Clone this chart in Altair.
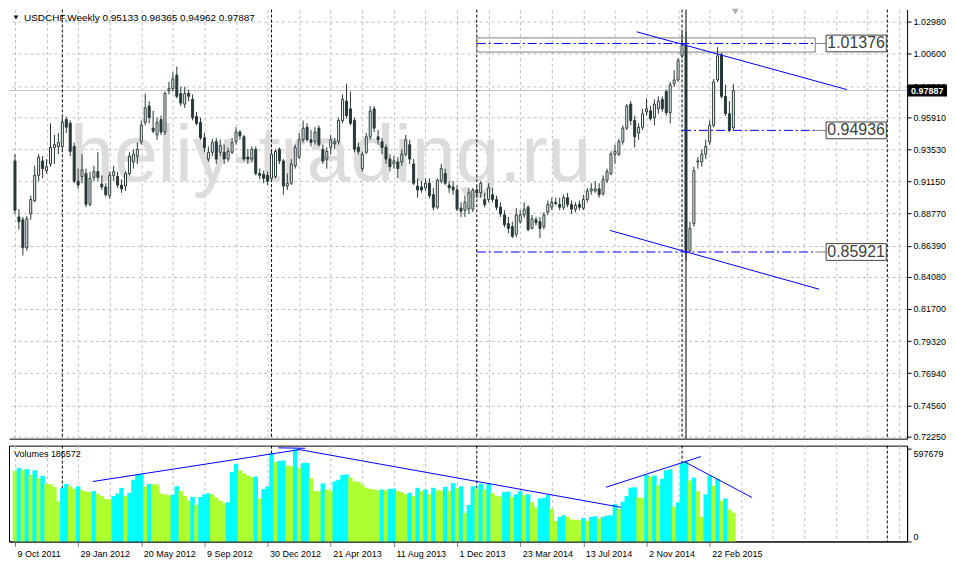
import altair as alt
import pandas as pd

# ---------------- data (weekly USDCHF, bar 0 = week of 9 Oct 2011) ----------------
opens = [
    0.9267, 0.8852, 0.8831, 0.8624, 0.8874, 0.8974, 0.9160, 0.9267, 0.9195, 0.9245,
    0.9367, 0.9374, 0.9374, 0.9574, 0.9546, 0.9374, 0.9117, 0.9152, 0.9174, 0.8945,
    0.9145, 0.9188, 0.9095, 0.9074, 0.9010, 0.9160, 0.9152, 0.9088, 0.9081, 0.9174,
    0.9260, 0.9303, 0.9410, 0.9553, 0.9674, 0.9510, 0.9460, 0.9574, 0.9481, 0.9789,
    0.9803, 0.9903, 0.9767, 0.9688, 0.9767, 0.9724, 0.9596, 0.9553, 0.9438, 0.9281,
    0.9331, 0.9410, 0.9331, 0.9331, 0.9281, 0.9331, 0.9410, 0.9481, 0.9446, 0.9295,
    0.9281, 0.9353, 0.9174, 0.9167, 0.9160, 0.9138, 0.9152, 0.9353, 0.9267, 0.9081,
    0.9102, 0.9231, 0.9295, 0.9424, 0.9517, 0.9424, 0.9410, 0.9510, 0.9353, 0.9281,
    0.9367, 0.9395, 0.9410, 0.9567, 0.9710, 0.9653, 0.9567, 0.9367, 0.9210, 0.9331,
    0.9446, 0.9653, 0.9446, 0.9410, 0.9367, 0.9281, 0.9245, 0.9260, 0.9260, 0.9317,
    0.9388, 0.9245, 0.9081, 0.9074, 0.9067, 0.9102, 0.9017, 0.8924, 0.9117, 0.9174,
    0.9088, 0.9074, 0.9052, 0.8917, 0.8902, 0.8910, 0.8910, 0.9052, 0.9031, 0.8981,
    0.8981, 0.9017, 0.8981, 0.8924, 0.8867, 0.8802, 0.8781, 0.8724, 0.8817, 0.8867,
    0.8924, 0.8767, 0.8831, 0.8817, 0.8781, 0.8888, 0.8924, 0.8960, 0.8945, 0.8924,
    0.8995, 0.8945, 0.8910, 0.8945, 0.8917, 0.8981, 0.9045, 0.9045, 0.9060, 0.9024,
    0.9124, 0.9174, 0.9317, 0.9317, 0.9410, 0.9510, 0.9688, 0.9567, 0.9474, 0.9517,
    0.9631, 0.9638, 0.9588, 0.9653, 0.9724, 0.9781, 0.9624, 0.9839, 0.9867, 1.0046,
    1.0124, 0.8602, 0.8802, 0.9260, 0.9260, 0.9317, 0.9410, 0.9531, 0.9867, 1.0053,
    0.9746, 0.9617, 0.95133,
]
highs = [
    0.9317, 0.8910, 0.8852, 0.8859, 0.9010, 0.9231, 0.9317, 0.9303, 0.9281, 0.9546,
    0.9460, 0.9474, 0.9588, 0.9596, 0.9567, 0.9403, 0.9210, 0.9317, 0.9210, 0.9188,
    0.9231, 0.9331, 0.9160, 0.9102, 0.9188, 0.9231, 0.9188, 0.9131, 0.9188, 0.9331,
    0.9353, 0.9403, 0.9567, 0.9767, 0.9710, 0.9638, 0.9588, 0.9603, 0.9781, 0.9853,
    0.9924, 0.9967, 0.9817, 0.9817, 0.9796, 0.9760, 0.9631, 0.9588, 0.9474, 0.9374,
    0.9431, 0.9438, 0.9424, 0.9388, 0.9367, 0.9438, 0.9517, 0.9496, 0.9460, 0.9353,
    0.9374, 0.9374, 0.9210, 0.9195, 0.9188, 0.9338, 0.9353, 0.9367, 0.9281, 0.9174,
    0.9281, 0.9388, 0.9474, 0.9567, 0.9546, 0.9496, 0.9517, 0.9531, 0.9388, 0.9367,
    0.9460, 0.9438, 0.9588, 0.9760, 0.9839, 0.9781, 0.9588, 0.9403, 0.9338, 0.9474,
    0.9674, 0.9674, 0.9496, 0.9438, 0.9388, 0.9317, 0.9303, 0.9295, 0.9353, 0.9460,
    0.9424, 0.9281, 0.9138, 0.9117, 0.9138, 0.9138, 0.9067, 0.9138, 0.9245, 0.9210,
    0.9117, 0.9117, 0.9088, 0.8960, 0.9010, 0.9067, 0.9067, 0.9088, 0.9117, 0.9031,
    0.9102, 0.9067, 0.9010, 0.8960, 0.8902, 0.8852, 0.8817, 0.8917, 0.8902, 0.8960,
    0.8938, 0.8867, 0.8852, 0.8852, 0.8888, 0.8974, 0.8995, 0.8995, 0.8995, 0.9017,
    0.9031, 0.8974, 0.8960, 0.8974, 0.9017, 0.9067, 0.9102, 0.9117, 0.9102, 0.9160,
    0.9210, 0.9338, 0.9388, 0.9431, 0.9531, 0.9688, 0.9710, 0.9603, 0.9546, 0.9653,
    0.9731, 0.9674, 0.9724, 0.9746, 0.9746, 0.9796, 0.9853, 0.9939, 1.0031, 1.0224,
    1.0224, 0.8817, 0.9224, 0.9295, 0.9353, 0.9424, 0.9567, 0.9874, 1.0110, 1.0067,
    0.9831, 0.9710, 0.98365,
]
lows = [
    0.8874, 0.8759, 0.8566, 0.8602, 0.8831, 0.8960, 0.9117, 0.9138, 0.9174, 0.9224,
    0.9245, 0.9317, 0.9353, 0.9474, 0.9303, 0.9102, 0.9060, 0.9102, 0.8924, 0.8931,
    0.9117, 0.9117, 0.9052, 0.9002, 0.8988, 0.9117, 0.9067, 0.9031, 0.9045, 0.9160,
    0.9210, 0.9245, 0.9388, 0.9531, 0.9546, 0.9474, 0.9424, 0.9460, 0.9460, 0.9760,
    0.9781, 0.9731, 0.9674, 0.9660, 0.9710, 0.9567, 0.9531, 0.9424, 0.9331, 0.9260,
    0.9303, 0.9245, 0.9303, 0.9245, 0.9260, 0.9317, 0.9388, 0.9424, 0.9267, 0.9245,
    0.9260, 0.9160, 0.9131, 0.9102, 0.9088, 0.9117, 0.9138, 0.9245, 0.9017, 0.9052,
    0.9088, 0.9210, 0.9281, 0.9403, 0.9410, 0.9374, 0.9388, 0.9374, 0.9245, 0.9210,
    0.9317, 0.9353, 0.9388, 0.9546, 0.9581, 0.9531, 0.9331, 0.9317, 0.9188, 0.9317,
    0.9424, 0.9481, 0.9388, 0.9317, 0.9245, 0.9188, 0.9210, 0.9138, 0.9231, 0.9303,
    0.9245, 0.9088, 0.8995, 0.9031, 0.9045, 0.8988, 0.8902, 0.8910, 0.9102, 0.9088,
    0.9031, 0.9017, 0.8895, 0.8852, 0.8852, 0.8874, 0.8888, 0.8995, 0.8995, 0.8924,
    0.8960, 0.8960, 0.8902, 0.8852, 0.8774, 0.8731, 0.8695, 0.8702, 0.8802, 0.8845,
    0.8745, 0.8759, 0.8788, 0.8695, 0.8759, 0.8867, 0.8902, 0.8938, 0.8902, 0.8902,
    0.8924, 0.8874, 0.8888, 0.8902, 0.8902, 0.8960, 0.9017, 0.9031, 0.8995, 0.9010,
    0.9102, 0.9160, 0.9245, 0.9303, 0.9388, 0.9496, 0.9531, 0.9367, 0.9424, 0.9496,
    0.9603, 0.9567, 0.9531, 0.9617, 0.9631, 0.9603, 0.9546, 0.9817, 0.9853, 1.0031,
    0.8531, 0.8588, 0.8781, 0.9210, 0.9224, 0.9281, 0.9388, 0.9517, 0.9853, 0.9731,
    0.9603, 0.9481, 0.94962,
]
closes = [
    0.8902, 0.8817, 0.8624, 0.8838, 0.8981, 0.9160, 0.9295, 0.9210, 0.9224, 0.9367,
    0.9388, 0.9403, 0.9553, 0.9517, 0.9338, 0.9117, 0.9088, 0.9202, 0.8945, 0.9138,
    0.9188, 0.9145, 0.9074, 0.9017, 0.9160, 0.9188, 0.9088, 0.9060, 0.9174, 0.9303,
    0.9317, 0.9353, 0.9531, 0.9660, 0.9588, 0.9488, 0.9553, 0.9481, 0.9767, 0.9803,
    0.9874, 0.9746, 0.9696, 0.9767, 0.9746, 0.9588, 0.9546, 0.9438, 0.9367, 0.9331,
    0.9403, 0.9281, 0.9381, 0.9281, 0.9338, 0.9403, 0.9481, 0.9453, 0.9281, 0.9281,
    0.9353, 0.9174, 0.9160, 0.9138, 0.9117, 0.9317, 0.9338, 0.9267, 0.9081, 0.9102,
    0.9245, 0.9367, 0.9424, 0.9510, 0.9424, 0.9403, 0.9481, 0.9388, 0.9267, 0.9338,
    0.9424, 0.9410, 0.9567, 0.9724, 0.9603, 0.9546, 0.9353, 0.9338, 0.9317, 0.9446,
    0.9638, 0.9510, 0.9424, 0.9367, 0.9281, 0.9224, 0.9267, 0.9210, 0.9317, 0.9424,
    0.9281, 0.9102, 0.9052, 0.9052, 0.9102, 0.9010, 0.8924, 0.9124, 0.9210, 0.9102,
    0.9067, 0.9052, 0.8910, 0.8895, 0.8960, 0.9031, 0.9052, 0.9031, 0.9102, 0.8945,
    0.9067, 0.8981, 0.8924, 0.8874, 0.8795, 0.8767, 0.8709, 0.8867, 0.8867, 0.8910,
    0.8759, 0.8838, 0.8809, 0.8767, 0.8867, 0.8945, 0.8960, 0.8952, 0.8924, 0.8995,
    0.8945, 0.8910, 0.8938, 0.8924, 0.8981, 0.9045, 0.9060, 0.9060, 0.9017, 0.9131,
    0.9188, 0.9317, 0.9338, 0.9410, 0.9510, 0.9674, 0.9567, 0.9446, 0.9517, 0.9617,
    0.9653, 0.9581, 0.9688, 0.9710, 0.9653, 0.9624, 0.9831, 0.9867, 1.0010, 1.0124,
    0.8602, 0.8767, 0.9195, 0.9267, 0.9317, 0.9374, 0.9531, 0.9853, 1.0046, 0.9746,
    0.9617, 0.9496, 0.97887,
]
volumes = [
    455000, 476000, 461000, 468000, 430000, 461000, 409000, 426000, 372000, 370000,
    353000, 259000, 347000, 372000, 357000, 340000, 357000, 330000, 324000, 319000,
    326000, 309000, 294000, 274000, 272000, 294000, 311000, 347000, 294000, 315000,
    399000, 430000, 436000, 357000, 372000, 370000, 368000, 309000, 305000, 299000,
    303000, 357000, 326000, 294000, 263000, 288000, 238000, 288000, 305000, 311000,
    305000, 284000, 263000, 248000, 253000, 451000, 503000, 461000, 441000, 426000,
    416000, 420000, 278000, 340000, 357000, 572000, 514000, 520000, 524000, 490000,
    487000, 597679, 476000, 507000, 509000, 409000, 326000, 324000, 376000, 336000,
    326000, 388000, 399000, 430000, 434000, 413000, 388000, 386000, 367000, 347000,
    340000, 336000, 332000, 336000, 332000, 340000, 342000, 326000, 319000, 305000,
    315000, 294000, 347000, 326000, 336000, 305000, 347000, 332000, 330000, 353000,
    326000, 378000, 347000, 357000, 186000, 236000, 357000, 340000, 374000, 336000,
    374000, 311000, 294000, 292000, 319000, 322000, 288000, 305000, 326000, 299000,
    305000, 253000, 221000, 278000, 282000, 301000, 211000, 132000, 159000, 169000,
    159000, 142000, 140000, 138000, 152000, 134000, 159000, 163000, 148000, 159000,
    167000, 169000, 242000, 211000, 257000, 294000, 347000, 351000, 284000, 282000,
    430000, 420000, 426000, 363000, 405000, 461000, 466000, 226000, 253000, 507000,
    520000, 395000, 413000, 326000, 159000, 305000, 426000, 361000, 405000, 263000,
    278000, 207000, 186572,
]
date_labels = ["9 Oct 2011", "29 Jan 2012", "20 May 2012", "9 Sep 2012", "30 Dec 2012",
               "21 Apr 2013", "11 Aug 2013", "1 Dec 2013", "23 Mar 2014", "13 Jul 2014",
               "2 Nov 2014", "22 Feb 2015"]
price_ticks = [1.0298, 1.0060, 0.9822, 0.9591, 0.9353, 0.9115, 0.8877, 0.8639,
               0.8408, 0.8170, 0.7932, 0.7694, 0.7456, 0.7225]
year_separators = [12, 65, 117, 169, 221]
event_bar = [170]
level_prices = [1.01376, 0.94936, 0.85921]
level_labels = ["1.01376", "0.94936", "0.85921"]
level_start_bars = [117, 169, 117]
box_rect_bars = [117, 202.75]
box_rect_prices = [1.0179, 1.0074]
price_trend_x = [157.5, 150.75]
price_trend_y = [1.0224, 0.8752]
price_trend_x2 = [210.75, 203.75]
price_trend_y2 = [0.9796, 0.8316]
vol_trend_x = [19.75, 71.5, 149.75, 169.75, 66.75]
vol_trend_y = [388000, 597000, 351000, 514000, 606000]
vol_trend_x2 = [72.25, 153.5, 173.75, 186.75, 73.5]
vol_trend_y2 = [595000, 221000, 549000, 284000, 603000]
header_text = "USDCHF,Weekly  0.95133 0.98365 0.94962 0.97887"
bid_price = 0.97887
volume_text = "Volumes 186572"
watermark = "heliy-trading.ru"

# ---------------- layout / style ----------------
W, H1, H2 = 900, 430, 96
GRID = "#c0c0c0"
DARK = "#283838"
FONT = "Liberation Sans"
grid_bars = list(range(0, 225, 8))

XS = alt.Scale(domain=[-0.25, -0.25 + W / 4.0], nice=False, zero=False)
YP = alt.Scale(domain=[0.72086, 1.03888], nice=False, zero=False)
YV = alt.Scale(domain=[0, 620000], nice=False, zero=False)

px_axis = alt.Axis(values=grid_bars, grid=True, gridColor=GRID, gridDash=[3, 3],
                   labels=False, ticks=False, domain=True, domainColor="black", title=None)
py_axis = alt.Axis(orient="right", values=price_ticks, format=".5f", grid=True,
                   gridColor=GRID, gridDash=[3, 3], tickSize=4, tickColor="black",
                   domainColor="black", labelFont=FONT, labelFontSize=9,
                   labelColor="black", labelPadding=2, title=None)

js_dates = "[" + ",".join("'" + d + "'" for d in date_labels) + "]"
vx_axis = alt.Axis(
    values=grid_bars, grid=True, gridColor=GRID, gridDash=[3, 3],
    labelExpr="(datum.value % 16 === 0 && datum.value / 16 < " + str(len(date_labels)) + ") ? "
              + js_dates + "[datum.value / 16] : ''",
    labelAlign="left", labelBaseline="top", labelFont=FONT, labelFontSize=9,
    labelColor="black", labelPadding=3, labelOffset=2, labelFlush=False,
    labelOverlap=False, labelBound=False, ticks=True, tickSize=5,
    tickColor={"condition": {"test": "datum.value % 16 === 0 && datum.value <= 176",
                             "value": "#808080"}, "value": "transparent"},
    domain=True, domainColor="black", title=None)
vy_axis = alt.Axis(orient="right", values=[0, 597679], format="d", grid=False,
                   tickSize=4, tickColor="black", domainColor="black",
                   labelFont=FONT, labelFontSize=9, labelColor="black", labelPadding=2,
                   labelBaseline={"condition": {"test": "datum.value === 0", "value": "bottom"},
                                  "value": "top"},
                   title=None)


def PX(f):
    return alt.X(f"{f}:Q", scale=XS, axis=px_axis)


def PY(f):
    return alt.Y(f"{f}:Q", scale=YP, axis=py_axis)


def VX(f):
    return alt.X(f"{f}:Q", scale=XS, axis=vx_axis)


def VY(f):
    return alt.Y(f"{f}:Q", scale=YV, axis=vy_axis)


# ---------------- tables ----------------
n = len(closes)
candles = pd.DataFrame({"bar": list(range(n)), "open": opens, "high": highs,
                        "low": lows, "close": closes})
dirs = ["down"] + ["up" if volumes[i] > volumes[i - 1] else "down" for i in range(1, n)]
vols = pd.DataFrame({"bar": list(range(n)), "vol": volumes, "dir": dirs})
seps = pd.DataFrame({"bar": year_separators})
event = pd.DataFrame({"bar": event_bar})
levels = pd.DataFrame({"start": level_start_bars, "end": [box_rect_bars[1]] * 3,
                       "box0": [205.5] * 3, "box1": [220.75] * 3, "mid": [213.1] * 3,
                       "price": level_prices, "label": level_labels,
                       "top": [p + 0.0062 for p in level_prices],
                       "bot": [p - 0.0062 for p in level_prices]})
box = pd.DataFrame({"x": [box_rect_bars[0]], "x2": [box_rect_bars[1]],
                    "y": [box_rect_prices[0]], "y2": [box_rect_prices[1]]})
ptrend = pd.DataFrame({"x": price_trend_x, "y": price_trend_y,
                       "x2": price_trend_x2, "y2": price_trend_y2})
vtrend = pd.DataFrame({"x": vol_trend_x, "y": vol_trend_y,
                       "x2": vol_trend_x2, "y2": vol_trend_y2})
wm = pd.DataFrame({"x": [80], "y": [0.9117], "t": [watermark]})
bid = pd.DataFrame({"price": [bid_price], "top": [bid_price + 0.0044],
                    "bot": [bid_price - 0.0044], "label": ["%.5f" % bid_price]})
shiftmark = pd.DataFrame({"bar": [182.5]})
hdr = pd.DataFrame({"t": [header_text]})
vtxt = pd.DataFrame({"t": [volume_text]})

# ---------------- price panel ----------------
watermark_l = alt.Chart(wm).mark_text(font=FONT, fontSize=79, color="#dcdcdc",
                                      align="center", baseline="alphabetic").encode(
    x=PX("x"), y=PY("y"), text="t:N")
bid_line = alt.Chart(bid).mark_rule(color="#c0c0c0", strokeWidth=1).encode(y=PY("price"))
sep_p = alt.Chart(seps).mark_rule(color="black", strokeDash=[3, 2], strokeWidth=1).encode(x=PX("bar"))
event_l = alt.Chart(event).mark_rule(color="black", strokeWidth=1).encode(x=PX("bar"))
rect_l = alt.Chart(box).mark_rect(filled=False, stroke="#808080", strokeWidth=1).encode(
    x=PX("x"), x2="x2:Q", y=PY("y"), y2="y2:Q")
wicks = alt.Chart(candles).mark_rule(color=DARK, strokeWidth=1).encode(
    x=PX("bar"), y=PY("low"), y2="high:Q")
bodies = alt.Chart(candles).mark_bar(width=2, stroke=DARK, strokeWidth=1).encode(
    x=PX("bar"), y=PY("open"), y2="close:Q",
    fill=alt.condition("datum.close >= datum.open", alt.value("white"), alt.value(DARK)))
lvl_lines = alt.Chart(levels).mark_rule(color="#0000ff", strokeWidth=1,
                                        strokeDash=[9, 3, 2, 3]).encode(
    x=PX("start"), x2="end:Q", y=PY("price"))
lvl_conn = alt.Chart(levels).mark_rule(color="#808080", strokeWidth=1).encode(
    x=PX("end"), x2="box0:Q", y=PY("price"))
lvl_box = alt.Chart(levels).mark_rect(fill="white", stroke="#404040", strokeWidth=1).encode(
    x=PX("box0"), x2="box1:Q", y=PY("top"), y2="bot:Q")
lvl_text = alt.Chart(levels).mark_text(font=FONT, fontSize=16, color="#404040",
                                       align="center", baseline="middle").encode(
    x=PX("mid"), y=PY("price"), text="label:N")
ptrend_l = alt.Chart(ptrend).mark_rule(color="#0000ff", strokeWidth=1).encode(
    x=PX("x"), y=PY("y"), x2="x2:Q", y2="y2:Q")
shift_l = alt.Chart(shiftmark).mark_point(shape="triangle-down", filled=True, color="#b0b0b0",
                                          size=45, opacity=1).encode(x=PX("bar"), y=alt.value(2))
hdr_tri = alt.Chart(hdr).mark_point(shape="triangle-down", filled=True, color="black",
                                    size=22, opacity=1).encode(x=alt.value(7), y=alt.value(8))
hdr_l = alt.Chart(hdr).mark_text(font=FONT, fontSize=10, color="black", align="left",
                                 baseline="middle").encode(
    x=alt.value(15), y=alt.value(8), text="t:N")
tag_rect = alt.Chart(bid).mark_rect(color="black").encode(
    x=alt.value(W + 1), x2=alt.value(W + 40), y=PY("top"), y2="bot:Q")
tag_text = alt.Chart(bid).mark_text(font=FONT, fontSize=9, fontWeight="bold", color="white",
                                    align="left", baseline="middle").encode(
    x=alt.value(W + 4), y=PY("price"), text="label:N")

price = alt.layer(
    watermark_l, bid_line, sep_p, event_l, rect_l, wicks, bodies,
    lvl_lines, lvl_conn, lvl_box, lvl_text, ptrend_l, shift_l,
    hdr_tri, hdr_l, tag_rect, tag_text,
).properties(width=W, height=H1)

# ---------------- volume panel ----------------
vbars = alt.Chart(vols).mark_bar(width=4.5).encode(
    x=VX("bar"), y=VY("vol"),
    color=alt.Color("dir:N", scale=alt.Scale(domain=["up", "down"],
                                             range=["#00ffff", "#adff2f"]), legend=None))
sep_v = alt.Chart(seps).mark_rule(color="black", strokeDash=[3, 2], strokeWidth=1).encode(x=VX("bar"))
vtrend_l = alt.Chart(vtrend).mark_rule(color="#0000ff", strokeWidth=1).encode(
    x=VX("x"), y=VY("y"), x2="x2:Q", y2="y2:Q")
vtxt_l = alt.Chart(vtxt).mark_text(font=FONT, fontSize=9, color="black", align="left",
                                   baseline="middle").encode(
    x=alt.value(5), y=alt.value(8), text="t:N")

volume = alt.layer(sep_v, vbars, vtrend_l, vtxt_l).properties(
    width=W, height=H2, view=alt.ViewBackground(stroke="black", strokeWidth=1))

chart = alt.vconcat(price, volume, spacing=3).resolve_scale(
    x="independent", y="independent").properties(
    padding=0, background="white").configure_view(stroke=None)

chart.save("out.html", embed_options={"renderer": "svg", "actions": False})
